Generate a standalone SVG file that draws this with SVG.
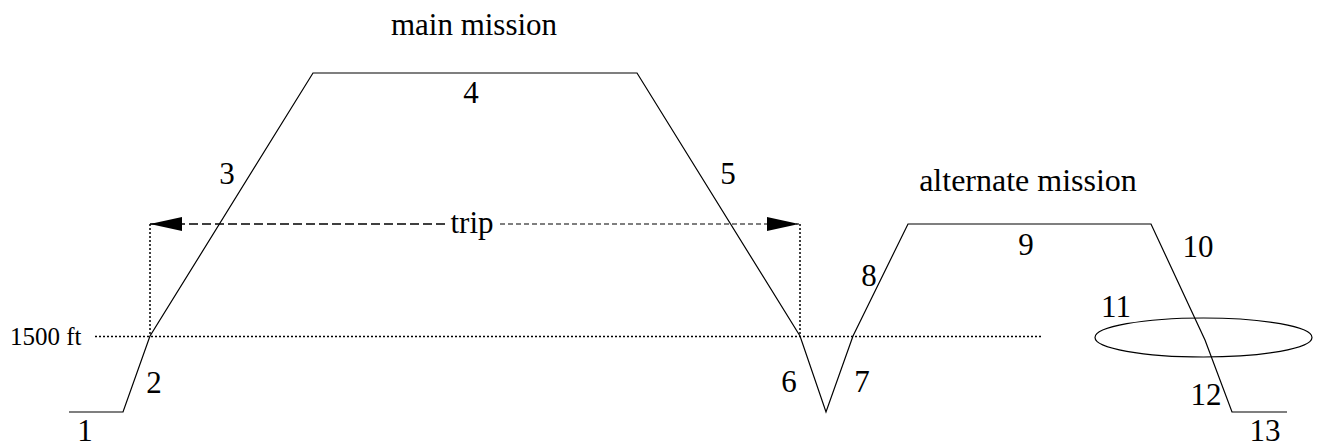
<svg xmlns="http://www.w3.org/2000/svg" width="1319" height="447" viewBox="0 0 1319 447">
<style>
.lbl{font-family:"Liberation Serif","Times New Roman",Times,serif;font-size:31px;fill:#000;text-anchor:middle}
.small{font-family:"Liberation Serif","Times New Roman",Times,serif;font-size:25px;fill:#000}
.prof{fill:none;stroke:#000;stroke-width:1.2}
.dot{fill:none;stroke:#000;stroke-width:1.5;stroke-dasharray:2 2}
.dash1{fill:none;stroke:#000;stroke-width:1.6;stroke-dasharray:9 4}
.dash2{fill:none;stroke:#000;stroke-width:1.1;stroke-dasharray:5 3}
</style>
<defs>
<marker id="ah" viewBox="0 0 32 14" refX="32" refY="7" markerWidth="32" markerHeight="14" markerUnits="userSpaceOnUse" orient="auto">
<path d="M0,0 L32,7 L0,14 Z" fill="#000"/>
</marker>
</defs>
<g id="profile">
<polyline class="prof" points="69,412 123,412 150,336 313,73 637,73 800,336 826,412 853,336 908,224 1151,224 1205,340 1232,412 1287,412"/>
</g>
<g id="hold">
<ellipse class="prof" cx="1203.5" cy="337.5" rx="108.5" ry="19.5"/>
</g>
<g id="connectors">
<line class="dot" x1="95" y1="336.5" x2="1043" y2="336.5"/>
<line class="dot" x1="150" y1="224" x2="150" y2="336"/>
<line class="dot" x1="800" y1="224" x2="800" y2="336"/>
<line class="dash1" x1="445" y1="224" x2="150" y2="224" marker-end="url(#ah)"/>
<line class="dash2" x1="500" y1="224" x2="799" y2="224" marker-end="url(#ah)"/>
</g>
<g id="labels">
<text class="lbl" x="474" y="35">main mission</text>
<text class="lbl" x="471" y="103">4</text>
<text class="lbl" x="227" y="184">3</text>
<text class="lbl" x="728" y="184">5</text>
<text class="lbl" x="472" y="233">trip</text>
<text class="lbl" x="1028" y="191" style="font-size:32px">alternate mission</text>
<text class="lbl" x="1026" y="255">9</text>
<text class="lbl" x="1198" y="257">10</text>
<text class="lbl" x="869" y="286">8</text>
<text class="lbl" x="1116" y="317">11</text>
<text class="lbl" x="789" y="392">6</text>
<text class="lbl" x="862" y="392">7</text>
<text class="lbl" x="154" y="393">2</text>
<text class="lbl" x="1206" y="405">12</text>
<text class="lbl" x="85" y="441">1</text>
<text class="lbl" x="1265" y="441">13</text>
<text class="small" x="10" y="345">1500 ft</text>
</g>
</svg>
